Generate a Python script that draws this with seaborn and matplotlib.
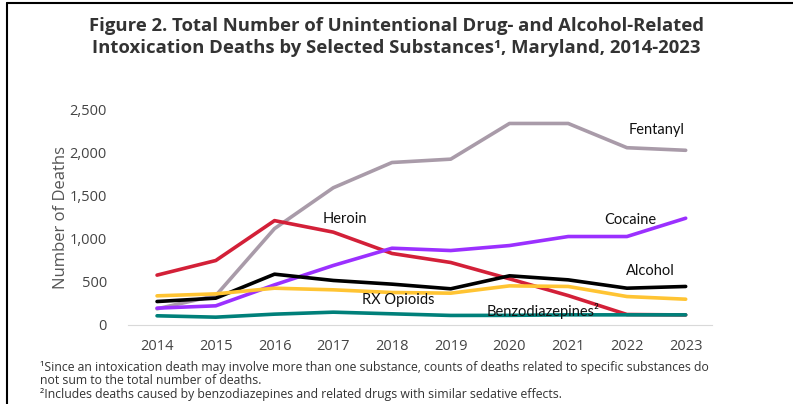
import pandas as pd
import matplotlib.pyplot as plt
from matplotlib.lines import Line2D
import seaborn as sns

# data
years = [2014, 2015, 2016, 2017, 2018, 2019, 2020, 2021, 2022, 2023]
fentanyl = [186, 340, 1119, 1594, 1888, 1927, 2342, 2342, 2060, 2030]
heroin = [578, 748, 1212, 1078, 830, 725, 535, 340, 120, 115]
cocaine = [194, 221, 465, 690, 891, 864, 922, 1027, 1027, 1240]
alcohol = [271, 310, 589, 516, 473, 419, 570, 523, 426, 446]
rx_opioids = [337, 360, 426, 407, 376, 368, 453, 446, 329, 298]
benzo = [105, 89, 124, 147, 128, 109, 110, 116, 116, 116]

series = {'Fentanyl': fentanyl, 'Heroin': heroin, 'Cocaine': cocaine,
          'Alcohol': alcohol, 'RX Opioids': rx_opioids, 'Benzodiazepines': benzo}
cores = {'Fentanyl': '#a99ba9', 'Heroin': '#d32038', 'Cocaine': '#9b30ff',
         'Alcohol': '#000000', 'RX Opioids': '#ffc433', 'Benzodiazepines': '#00807a'}

# long format for seaborn
linhas = []
for nome, vals in series.items():
    for a, v in zip(years, vals):
        linhas.append({'ano': a, 'mortes': v, 'substancia': nome})
df = pd.DataFrame(linhas)

sns.set_style('white')
plt.rcParams['font.family'] = ['Open Sans', 'DejaVu Sans']

fig = plt.figure(figsize=(7.93, 4.04), dpi=100)
ax = fig.add_axes([0.161, 0.196, 0.737, 0.532])

sns.lineplot(data=df, x='ano', y='mortes', hue='substancia', palette=cores,
             linewidth=2.6, legend=False, ax=ax)

ax.set_xlim(2013.5, 2023.45)
ax.set_ylim(0, 2500)
ax.set_xticks(years)
ax.set_xticklabels([str(a) for a in years])
ax.set_yticks([0, 500, 1000, 1500, 2000, 2500])
ax.set_yticklabels(['0', '500', '1,000', '1,500', '2,000', '2,500'])
ax.tick_params(axis='both', length=0, labelsize=10.5, labelcolor='#444444')
ax.tick_params(axis='x', pad=10)
ax.tick_params(axis='y', pad=15)
ax.set_xlabel('')
ax.set_ylabel('Number of Deaths', fontsize=12, color='#555555', labelpad=0)
for s in ['top', 'right', 'left']:
    ax.spines[s].set_visible(False)
ax.spines['bottom'].set_color('#d9d9d9')

# rotulos das series
fonte_rot = dict(fontsize=10.5, family=['Lato', 'DejaVu Sans'], color='#111111')
ax.text(2022.5, 2265, 'Fentanyl', ha='center', va='center', **fonte_rot)
ax.text(2017.2, 1235, 'Heroin', ha='center', va='center', **fonte_rot)
ax.text(2022.05, 1220, 'Cocaine', ha='center', va='center', **fonte_rot)
ax.text(2022.4, 628, 'Alcohol', ha='center', va='center', **fonte_rot)
ax.text(2018.1, 290, 'RX Opioids', ha='center', va='center', **fonte_rot)
ax.text(2020.57, 155, 'Benzodiazepines²', ha='center', va='center', **fonte_rot)

# titulo
fig.text(0.5, 0.958, 'Figure 2. Total Number of Unintentional Drug- and Alcohol-Related\n'
         'Intoxication Deaths by Selected Substances¹, Maryland, 2014-2023',
         ha='center', va='top', fontsize=13.3, fontweight='bold', color='#333333',
         linespacing=1.3)

# notas de rodape
nota = ('¹Since an intoxication death may involve more than one substance, counts of deaths related to specific substances do\n'
        'not sum to the total number of deaths.\n'
        '²Includes deaths caused by benzodiazepines and related drugs with similar sedative effects.')
fig.text(0.05, 0.106, nota, ha='left', va='top', fontsize=8.8, color='#333333', linespacing=1.02)

# borda
fig.add_artist(Line2D([0.009, 0.009], [0, 0.993], transform=fig.transFigure, color='black', lw=1.5))
fig.add_artist(Line2D([0.009, 1.0], [0.993, 0.993], transform=fig.transFigure, color='black', lw=1.5))

fig.savefig('out.png', dpi=100)
